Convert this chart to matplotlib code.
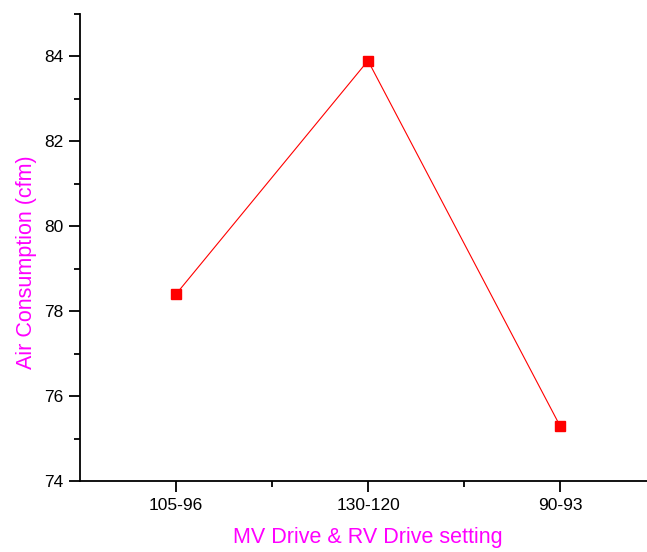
import matplotlib.pyplot as plt
from matplotlib.ticker import MultipleLocator

settings = ["105-96", "130-120", "90-93"]
air_cfm = [78.4, 83.9, 75.3]

plt.rcParams['font.family'] = ['Liberation Sans', 'DejaVu Sans']

fig = plt.figure(figsize=(6.47, 5.52), dpi=100)
ax = fig.add_axes([80 / 647, 71 / 552, 576 / 647, 467 / 552])

x = list(range(len(settings)))
ax.plot(x, air_cfm, color="red", lw=0.8, marker="s", ms=6.5, mec="red", mfc="red")

ax.set_xlim(-0.5, 2.5)
ax.set_ylim(74, 85)
ax.set_xticks(x)
ax.set_xticklabels(settings)
ax.set_xticks([0.5, 1.5], minor=True)
ax.yaxis.set_major_locator(MultipleLocator(2))
ax.yaxis.set_minor_locator(MultipleLocator(1))

ax.spines['top'].set_visible(False)
ax.spines['right'].set_visible(False)
for s in ('left', 'bottom'):
    ax.spines[s].set_linewidth(1.3)
ax.tick_params(which='major', direction='out', length=8, width=1.3, labelsize=12.5, pad=4)
ax.tick_params(which='minor', direction='out', length=4, width=1.3)

ax.set_xlabel("MV Drive & RV Drive setting", color="#ff00ff", fontsize=15.5, labelpad=10)
ax.set_ylabel("Air Consumption (cfm)", color="#ff00ff", fontsize=15.5)
ax.yaxis.set_label_coords(-0.074, 0.469)

fig.savefig("out.png", dpi=100)
